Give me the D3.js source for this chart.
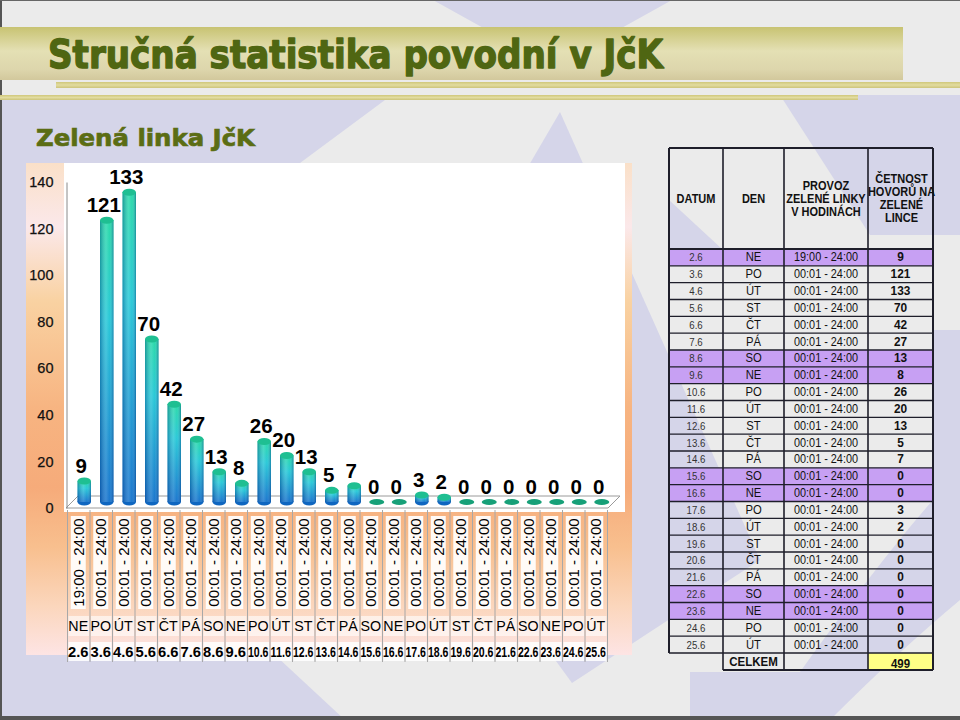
<!DOCTYPE html>
<html><head><meta charset="utf-8">
<script src="https://cdn.jsdelivr.net/npm/d3@7"></script>
<style>
body{margin:0;background:#ebebeb;}
svg{display:block;font-family:"Liberation Sans",Arial,sans-serif;}
</style>
</head><body>
<svg id="c" width="960" height="720"></svg>
<script>
// ---------- DATA ----------
const dates = ["2.6","3.6","4.6","5.6","6.6","7.6","8.6","9.6","10.6","11.6","12.6","13.6","14.6","15.6","16.6","17.6","18.6","19.6","20.6","21.6","22.6","23.6","24.6","25.6"];
const days = ["NE","PO","ÚT","ST","ČT","PÁ","SO","NE","PO","ÚT","ST","ČT","PÁ","SO","NE","PO","ÚT","ST","ČT","PÁ","SO","NE","PO","ÚT"];
const hours = ["19:00 - 24:00","00:01 - 24:00","00:01 - 24:00","00:01 - 24:00","00:01 - 24:00","00:01 - 24:00","00:01 - 24:00","00:01 - 24:00","00:01 - 24:00","00:01 - 24:00","00:01 - 24:00","00:01 - 24:00","00:01 - 24:00","00:01 - 24:00","00:01 - 24:00","00:01 - 24:00","00:01 - 24:00","00:01 - 24:00","00:01 - 24:00","00:01 - 24:00","00:01 - 24:00","00:01 - 24:00","00:01 - 24:00","00:01 - 24:00"];
const calls = [9,121,133,70,42,27,13,8,26,20,13,5,7,0,0,3,2,0,0,0,0,0,0,0];
const yTicks = [0,20,40,60,80,100,120,140];
const weekendDays = ["SO","NE"];
const title = "Stručná statistika povodní v JčK";
const subtitle = "Zelená linka JčK";
const tableHeaders = [["DATUM"],["DEN"],["PROVOZ","ZELENÉ LINKY","V HODINÁCH"],["ČETNOST","HOVORŮ NA","ZELENÉ","LINCE"]];
const totalLabel = "CELKEM";

// ---------- SETUP ----------
const svg = d3.select("#c");
const defs = svg.append("defs");
function lg(id, stops, x2=0, y2=1){
  const g = defs.append("linearGradient").attr("id",id).attr("x1",0).attr("y1",0).attr("x2",x2).attr("y2",y2);
  stops.forEach(s=>g.append("stop").attr("offset",s[0]).attr("stop-color",s[1]).attr("stop-opacity",s[2]==null?1:s[2]));
}
lg("band",[[0,"#c8c372"],[0.45,"#e4e0b4"],[0.8,"#ddd6ac"],[1,"#d2c89c"]]);
lg("line1",[[0,"#cfc77a"],[0.5,"#e2dca0"],[1,"#cdc47a"]]);
lg("frame",[[0,"#fae0c8"],[0.13,"#fbe8ea"],[0.28,"#f9d2a2"],[0.5,"#f7b481"],[0.66,"#f6ab7a"],[0.78,"#f8bf8e"],[0.9,"#fbd6bc"],[1,"#fde4e4"]]);
lg("barV",[[0,"#22d8a6"],[0.35,"#20c6d6"],[1,"#1070cc"]]);
lg("barH",[[0,"#00286e",0.35],[0.45,"#ffffff",0.18],[0.7,"#ffffff",0.05],[1,"#00286e",0.4]],1,0);

// ---------- BACKGROUND ----------
const lav = "#d5d5e9";
const bgPaths = [
  "M433,0 L672,0 L600,40 L505,40 Z",
  "M0,100 L385,100 L300,163 L26,163 L26,720 L0,720 Z",
  "M0,655 L275,655 L345,720 L0,720 Z",
  "M560,112 L760,560 L572,683 L380,420 Z",
  "M780,95 L960,95 L960,235 L870,235 Z",
  "M669,200 L722,249 L669,249 Z",
  "M933,330 L960,330 L960,600 Q900,650 830,720 L690,720 L690,672 L800,672 Q880,560 933,500 Z"
];
svg.append("g").selectAll("path").data(bgPaths).join("path").attr("d",d=>d).attr("fill",lav);

// border
svg.append("rect").attr("x",0).attr("y",0).attr("width",2).attr("height",720).attr("fill","#555");
svg.append("rect").attr("x",0).attr("y",0).attr("width",960).attr("height",1).attr("fill","#666");
svg.append("rect").attr("x",0).attr("y",716).attr("width",960).attr("height",4).attr("fill","#555");

// ---------- TITLE ----------
svg.append("rect").attr("x",0).attr("y",27).attr("width",903).attr("height",53).attr("fill","url(#band)");
svg.append("rect").attr("x",56).attr("y",82).attr("width",904).attr("height",6).attr("fill","url(#line1)");
svg.append("rect").attr("x",0).attr("y",95).attr("width",858).attr("height",5).attr("fill","url(#line1)");
svg.append("text").attr("x",48).attr("y",68).attr("font-size",38.5).attr("font-weight","bold")
  .attr("font-family","DejaVu Sans, Liberation Sans, sans-serif")
  .attr("fill","#4f6612").attr("stroke","#4f6612").attr("stroke-width",1.4).attr("stroke-linejoin","round")
  .attr("textLength",615).attr("lengthAdjust","spacingAndGlyphs").text(title);
svg.append("text").attr("x",36).attr("y",146).attr("font-size",23).attr("font-weight","bold")
  .attr("font-family","DejaVu Sans, Liberation Sans, sans-serif")
  .attr("fill","#5b6d14").attr("stroke","#5b6d14").attr("stroke-width",0.7)
  .attr("textLength",219).attr("lengthAdjust","spacingAndGlyphs").text(subtitle);

// ---------- CHART ----------
svg.append("rect").attr("x",26).attr("y",163).attr("width",606).attr("height",492).attr("fill","url(#frame)");
svg.append("rect").attr("x",64).attr("y",163).attr("width",561).attr("height",349).attr("fill","#ffffff");

const y = d3.scaleLinear().domain([0,140]).range([508,182]);
const x = d3.scaleBand().domain(d3.range(calls.length)).range([67,607]).padding(0);
const bw = x.bandwidth();
const dx = 6, dy = 6; // 3D depth offset

// floor
const fl = [[66,508],[66+2*dx,508-2*dy],[x.range()[1]+2*dx+1,508-2*dy],[x.range()[1]+1,508]];
svg.append("path").attr("d","M"+fl.map(p=>p.join(",")).join("L")+"Z").attr("fill","#fff").attr("stroke","#9a9a9a").attr("stroke-width",1);

// y axis
const yAxis = svg.append("g").attr("transform","translate(66.5,0)")
  .call(d3.axisLeft(y).tickValues(yTicks).tickSize(0).tickSizeOuter(0).tickPadding(13));
yAxis.select(".domain").attr("stroke","#8a8a8a");
yAxis.selectAll("text").attr("font-size",14.5).attr("fill","#111").attr("font-family","Liberation Sans, Arial, sans-serif")
  .attr("stroke","#111").attr("stroke-width",0.25);

// bars
const bars = svg.append("g");
calls.forEach((v,i)=>{
  const cx = x(i)+bw/2+dx, base = y(0)-dy, top = y(v)-dy, w = 13.5, ry = 3.5;
  if(v>0){
    bars.append("ellipse").attr("cx",cx).attr("cy",base).attr("rx",w/2).attr("ry",ry).attr("fill","#0f66c0");
    bars.append("rect").attr("x",cx-w/2).attr("y",top).attr("width",w).attr("height",base-top).attr("fill","url(#barV)");
    bars.append("rect").attr("x",cx-w/2).attr("y",top).attr("width",w).attr("height",base-top).attr("fill","url(#barH)");
    bars.append("ellipse").attr("cx",cx).attr("cy",top).attr("rx",w/2).attr("ry",ry).attr("fill","#1fbf92");
  } else {
    bars.append("ellipse").attr("cx",cx).attr("cy",base).attr("rx",7.5).attr("ry",3).attr("fill","#17a078");
  }
  svg.append("text").attr("x",x(i)+bw/2+3).attr("y",top-8).attr("text-anchor","middle")
    .attr("font-size",20.5).attr("font-weight","bold").attr("fill","#000").text(v);
});

// category labels
const cat = svg.append("g");
d3.range(calls.length+1).forEach(i=>{
  const xx = i<calls.length ? x(i) : x.range()[1];
  cat.append("line").attr("x1",xx+0.5).attr("x2",xx+0.5).attr("y1",510).attr("y2",662).attr("stroke","#a8a8a8");
});
calls.forEach((v,i)=>{
  const x0 = x(i), cx = x0+bw/2;
  cat.append("rect").attr("x",cx-7.5).attr("y",516).attr("width",15).attr("height",93).attr("fill","#fff").attr("opacity",0.92);
  cat.append("rect").attr("x",x0+1.5).attr("y",616).attr("width",bw-2).attr("height",20).attr("fill","#fff").attr("opacity",0.6);
  cat.append("rect").attr("x",x0+1.5).attr("y",642).attr("width",bw-2).attr("height",19).attr("fill","#fff").attr("opacity",0.85);
  cat.append("text").attr("transform",`translate(${cx+5.5},562.5) rotate(-90)`).attr("text-anchor","middle")
    .attr("font-size",15).attr("fill","#000").text(hours[i]);
  cat.append("text").attr("transform",`translate(${cx},631) scale(0.92,1)`).attr("text-anchor","middle")
    .attr("font-size",15.5).attr("fill","#000").text(days[i]);
  const t = cat.append("text").attr("x",0).attr("y",0)
    .attr("font-size",15).attr("font-weight","bold").attr("fill","#000").text(dates[i]);
  const w0 = t.node().getComputedTextLength();
  const sx = Math.min(1, (bw-2)/w0);
  t.attr("transform",`translate(${x0+1},657) scale(${sx},1)`);
});

// ---------- TABLE ----------
const colX = [669,723,784,868,933];
const hTop = 148, hBot = 249, rowH = (653-249)/dates.length;
const tb = svg.append("g");
dates.forEach((d,i)=>{
  if(weekendDays.includes(days[i])) tb.append("rect").attr("x",colX[0]).attr("y",hBot+i*rowH).attr("width",colX[4]-colX[0]).attr("height",rowH).attr("fill","#c7a0f3");
});
// total row
const tTop = 653, tBot = 670;
tb.append("rect").attr("x",colX[3]).attr("y",tTop).attr("width",colX[4]-colX[3]).attr("height",tBot-tTop).attr("fill","#ffff86");
// grid lines
const ln = (x1,y1,x2,y2,w)=>tb.append("line").attr("x1",x1).attr("y1",y1).attr("x2",x2).attr("y2",y2).attr("stroke","#1e1e2a").attr("stroke-width",w);
ln(colX[0],hTop,colX[4],hTop,2);
ln(colX[0],hBot,colX[4],hBot,2);
dates.forEach((d,i)=>{ if(i>0) ln(colX[0],hBot+i*rowH,colX[4],hBot+i*rowH,1.3); });
ln(colX[0],tTop,colX[4],tTop,1.6);
ln(colX[1],tBot,colX[4],tBot,2);
ln(colX[0],hTop,colX[0],tTop,2);
ln(colX[1],hTop,colX[1],tBot,1.6);
ln(colX[2],hTop,colX[2],tBot,1.6);
ln(colX[3],hTop,colX[3],tBot,1.6);
ln(colX[4],hTop,colX[4],tBot,2);

// header text
const hdrY = [[203],[203],[190,203,216],[183,196,209,222]];
tableHeaders.forEach((lines,c)=>{
  const cx = (colX[c]+colX[c+1])/2 + (c===3?1:0);
  lines.forEach((t,k)=>{
    tb.append("text").attr("transform",`translate(${cx},${hdrY[c][k]}) scale(0.88,1)`).attr("text-anchor","middle")
      .attr("font-size",12.5).attr("font-weight","bold").attr("fill","#111").text(t);
  });
});
// body text
dates.forEach((d,i)=>{
  const cy = hBot+i*rowH+rowH/2+4;
  const cell = (c,txt,fs,fw,fill,sx)=>tb.append("text").attr("transform",`translate(${(colX[c]+colX[c+1])/2},${cy}) scale(${sx},1)`)
    .attr("text-anchor","middle").attr("font-size",fs).attr("font-weight",fw).attr("fill",fill).text(txt);
  cell(0,d,10.5,"normal","#333",0.92);
  cell(1,days[i],12.5,"normal","#111",0.9);
  cell(2,hours[i],12.5,"normal","#111",0.87);
  cell(3,calls[i],12.5,"bold","#111",0.95);
});
tb.append("text").attr("transform",`translate(${(colX[1]+colX[2])/2},${tTop+12.5}) scale(0.92,1)`).attr("text-anchor","middle")
  .attr("font-size",12.5).attr("font-weight","bold").attr("fill","#111").text(totalLabel);
tb.append("text").attr("transform",`translate(${(colX[3]+colX[4])/2},${tTop+15}) scale(0.92,1)`).attr("text-anchor","middle")
  .attr("font-size",12.5).attr("font-weight","bold").attr("fill","#111").text(d3.sum(calls));
</script>
</body></html>
